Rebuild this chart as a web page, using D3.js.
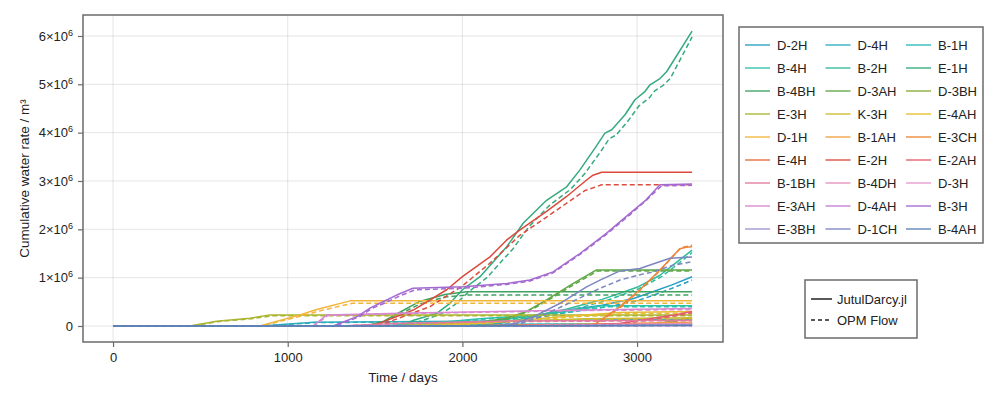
<!DOCTYPE html>
<html>
<head>
<meta charset="utf-8">
<script src="https://cdn.jsdelivr.net/npm/d3@7.9.0/dist/d3.min.js"></script>
<style>
  body { margin: 0; background: #fff; }
  svg { font-family: 'Liberation Sans', Arial, sans-serif; }
</style>
</head>
<body>
<svg id="chart" width="1000" height="400"></svg>
<script>
// well names, in legend order (row by row)
const wells = ['D-2H', 'D-4H', 'B-1H', 'B-4H', 'B-2H', 'E-1H', 'B-4BH', 'D-3AH', 'D-3BH',
  'E-3H', 'K-3H', 'E-4AH', 'D-1H', 'B-1AH', 'E-3CH', 'E-4H', 'E-2H', 'E-2AH',
  'B-1BH', 'B-4DH', 'D-3H', 'E-3AH', 'D-4AH', 'B-3H', 'E-3BH', 'D-1CH', 'B-4AH'];

const palette = ['#279fc4', '#2aaebf', '#2bb8b8', '#2dc0ad', '#30bb9b', '#33ab7e', '#3fa261', '#5ea544', '#88aa36',
  '#aab52f', '#cdbb2c', '#e6bc30', '#f2b43a', '#f0a040', '#ec8538', '#e86a3c', '#dc4a3c', '#e35c6e',
  '#e27a9e', '#e68fbd', '#e69ace', '#d888d2', '#c47ed4', '#a46ad0', '#9c94cc', '#7c86c0', '#5a82b4'];

// [day, cumulative water in 1e6 m3]
const jutul = [
  [[0, 0], [2000, 0], [2200, 0.05], [2400, 0.18], [2600, 0.33], [2800, 0.43], [2980, 0.57], [3090, 0.71], [3200, 0.85], [3315, 1.02]],
  [[0, 0], [850, 0], [1150, 0.08], [2000, 0.1], [2600, 0.12], [3315, 0.14]],
  [[0, 0], [1500, 0], [2000, 0.03], [3315, 0.05]],
  [[0, 0], [1500, 0], [1800, 0.05], [2100, 0.15], [2400, 0.22], [2600, 0.3], [2800, 0.42], [3315, 0.42]],
  [[0, 0], [1800, 0], [2100, 0.08], [2400, 0.2], [2600, 0.35], [2800, 0.55], [3000, 0.8], [3131, 1.05], [3220, 1.3], [3315, 1.57]],
  [[0, 0], [1650, 0], [1720, 0.12], [1853, 0.26], [1929, 0.47], [2000, 0.75], [2101, 1.02], [2254, 1.64], [2349, 2.13], [2482, 2.6], [2597, 2.88], [2673, 3.23], [2759, 3.68], [2816, 3.99], [2855, 4.06], [2931, 4.37], [2988, 4.68], [3045, 4.85], [3074, 4.99], [3131, 5.12], [3169, 5.26], [3315, 6.1]],
  [[0, 0], [1450, 0], [1550, 0.1], [1650, 0.3], [1750, 0.5], [1900, 0.65], [2025, 0.71], [3315, 0.71]],
  [[0, 0], [1900, 0], [2120, 0.09], [2254, 0.16], [2367, 0.3], [2482, 0.54], [2635, 0.88], [2768, 1.16], [3315, 1.16]],
  [[0, 0], [2500, 0], [2800, 0.02], [3100, 0.05], [3200, 0.1], [3315, 0.17]],
  [[0, 0], [440, 0], [593, 0.1], [784, 0.16], [899, 0.23], [3315, 0.23]],
  [[0, 0], [1600, 0], [1900, 0.05], [2300, 0.1], [2700, 0.15], [3315, 0.17]],
  [[0, 0], [1800, 0], [2200, 0.08], [2600, 0.2], [2900, 0.28], [3315, 0.3]],
  [[0, 0], [840, 0], [1070, 0.23], [1166, 0.34], [1357, 0.52], [3315, 0.52]],
  [[0, 0], [2000, 0], [2600, 0.03], [3315, 0.08]],
  [[0, 0], [2720, 0], [2768, 0.06], [2902, 0.4], [3016, 0.75], [3131, 1.16], [3245, 1.6], [3280, 1.63], [3315, 1.64]],
  [[0, 0], [1900, 0], [2400, 0.02], [3315, 0.04]],
  [[0, 0], [1470, 0], [1528, 0.06], [1719, 0.33], [1910, 0.75], [2000, 1.02], [2158, 1.43], [2254, 1.78], [2330, 1.99], [2482, 2.37], [2597, 2.68], [2711, 3.02], [2748, 3.12], [2797, 3.18], [3315, 3.18]],
  [[0, 0], [2600, 0], [2900, 0.05], [3016, 0.12], [3200, 0.22], [3315, 0.3]],
  [[0, 0], [1300, 0], [1600, 0.05], [2200, 0.1], [3315, 0.12]],
  [[0, 0], [2200, 0], [2600, 0.02], [3315, 0.05]],
  [[0, 0], [2400, 0], [3315, 0.03]],
  [[0, 0], [1145, 0], [1223, 0.23], [1700, 0.27], [2200, 0.3], [2700, 0.33], [3315, 0.36]],
  [[0, 0], [3315, 0.01]],
  [[0, 0], [1260, 0], [1400, 0.2], [1471, 0.37], [1528, 0.47], [1624, 0.64], [1717, 0.78], [2003, 0.81], [2254, 0.88], [2387, 0.95], [2519, 1.12], [2673, 1.5], [2826, 1.92], [2959, 2.33], [3052, 2.61], [3131, 2.92], [3315, 2.94]],
  [[0, 0], [2500, 0], [3315, 0.02]],
  [[0, 0], [2200, 0], [2310, 0.06], [2406, 0.19], [2559, 0.47], [2711, 0.81], [2788, 0.95], [2902, 1.14], [3016, 1.19], [3188, 1.4], [3315, 1.43]],
  [[0, 0], [3315, 0.01]]
];

const opm = [
  [[0, 0], [2000, 0], [2200, 0.04], [2400, 0.15], [2600, 0.28], [2800, 0.38], [2980, 0.5], [3090, 0.63], [3200, 0.78], [3315, 0.95]],
  [[0, 0], [860, 0], [1160, 0.07], [2000, 0.09], [2600, 0.11], [3315, 0.13]],
  [[0, 0], [1500, 0], [2000, 0.03], [3315, 0.04]],
  [[0, 0], [1500, 0], [1820, 0.05], [2120, 0.14], [2420, 0.21], [2620, 0.29], [2820, 0.4], [3315, 0.4]],
  [[0, 0], [1800, 0], [2120, 0.07], [2420, 0.19], [2620, 0.33], [2820, 0.52], [3010, 0.77], [3140, 1.02], [3230, 1.27], [3315, 1.52]],
  [[0, 0], [1680, 0], [1760, 0.1], [1880, 0.25], [1960, 0.45], [2040, 0.72], [2140, 1.0], [2290, 1.6], [2380, 2.05], [2500, 2.5], [2620, 2.83], [2700, 3.15], [2790, 3.6], [2840, 3.87], [2880, 3.95], [2950, 4.25], [3010, 4.55], [3070, 4.72], [3100, 4.86], [3150, 4.98], [3190, 5.12], [3315, 5.98]],
  [[0, 0], [1450, 0], [1560, 0.1], [1660, 0.28], [1760, 0.46], [1900, 0.6], [2025, 0.64], [3315, 0.64]],
  [[0, 0], [1900, 0], [2130, 0.08], [2260, 0.15], [2375, 0.29], [2490, 0.53], [2640, 0.86], [2775, 1.14], [3315, 1.14]],
  [[0, 0], [2500, 0], [2800, 0.02], [3100, 0.04], [3200, 0.08], [3315, 0.14]],
  [[0, 0], [450, 0], [600, 0.09], [790, 0.15], [910, 0.21], [3315, 0.21]],
  [[0, 0], [1600, 0], [1900, 0.04], [2300, 0.09], [2700, 0.13], [3315, 0.15]],
  [[0, 0], [1800, 0], [2200, 0.07], [2600, 0.18], [2900, 0.25], [3315, 0.27]],
  [[0, 0], [850, 0], [1080, 0.21], [1180, 0.31], [1370, 0.47], [3315, 0.47]],
  [[0, 0], [2000, 0], [2600, 0.02], [3315, 0.07]],
  [[0, 0], [2720, 0], [2775, 0.06], [2910, 0.4], [3020, 0.75], [3135, 1.16], [3250, 1.62], [3315, 1.67]],
  [[0, 0], [1900, 0], [2400, 0.02], [3315, 0.03]],
  [[0, 0], [1480, 0], [1560, 0.06], [1815, 0.4], [2000, 0.83], [2158, 1.3], [2330, 1.88], [2444, 2.16], [2597, 2.54], [2700, 2.8], [2797, 2.92], [3315, 2.92]],
  [[0, 0], [2600, 0], [2900, 0.04], [3016, 0.1], [3200, 0.2], [3315, 0.27]],
  [[0, 0], [1300, 0], [1600, 0.04], [2200, 0.09], [3315, 0.11]],
  [[0, 0], [2200, 0], [2600, 0.02], [3315, 0.04]],
  [[0, 0], [2400, 0], [3315, 0.02]],
  [[0, 0], [1150, 0], [1230, 0.22], [1700, 0.26], [2200, 0.29], [2700, 0.32], [3315, 0.34]],
  [[0, 0], [3315, 0.01]],
  [[0, 0], [1270, 0], [1410, 0.19], [1480, 0.36], [1540, 0.45], [1640, 0.62], [1730, 0.75], [2003, 0.78], [2254, 0.86], [2387, 0.93], [2519, 1.1], [2673, 1.48], [2826, 1.9], [2959, 2.3], [3052, 2.6], [3140, 2.9], [3315, 2.91]],
  [[0, 0], [2500, 0], [3315, 0.02]],
  [[0, 0], [2210, 0], [2330, 0.05], [2430, 0.17], [2580, 0.42], [2788, 0.78], [2902, 0.95], [3016, 1.06], [3093, 1.12], [3200, 1.25], [3315, 1.33]],
  [[0, 0], [3315, 0.01]]
];

const xTicks = [0, 1000, 2000, 3000];
const yTicks = [0, 1, 2, 3, 4, 5, 6]; // x 1e6

const svg = d3.select('#chart');
const box = { left: 83, right: 723, top: 15, bottom: 342 };
const frameColor = '#6b6b6b';

const x = d3.scaleLinear().domain([-172, 3492]).range([box.left, box.right]);
const y = d3.scaleLinear().domain([-0.331, 6.434]).range([box.bottom, box.top]);

// grid
svg.append('g')
  .selectAll('line')
  .data(xTicks)
  .join('line')
  .attr('x1', d => x(d)).attr('x2', d => x(d))
  .attr('y1', box.top).attr('y2', box.bottom)
  .attr('stroke', '#000').attr('stroke-opacity', 0.1).attr('stroke-width', 1);
svg.append('g')
  .selectAll('line')
  .data(yTicks)
  .join('line')
  .attr('x1', box.left).attr('x2', box.right)
  .attr('y1', d => y(d)).attr('y2', d => y(d))
  .attr('stroke', '#000').attr('stroke-opacity', 0.1).attr('stroke-width', 1);

svg.append('clipPath').attr('id', 'clip')
  .append('rect')
  .attr('x', box.left).attr('y', box.top)
  .attr('width', box.right - box.left).attr('height', box.bottom - box.top);

const line = d3.line().x(d => x(d[0])).y(d => y(d[1]));
const plot = svg.append('g').attr('clip-path', 'url(#clip)');

wells.forEach((w, i) => {
  plot.append('path')
    .attr('d', line(jutul[i]))
    .attr('fill', 'none')
    .attr('stroke', palette[i])
    .attr('stroke-width', 1.5)
    .attr('stroke-linejoin', 'round');
  plot.append('path')
    .attr('d', line(opm[i]))
    .attr('fill', 'none')
    .attr('stroke', palette[i])
    .attr('stroke-width', 1.5)
    .attr('stroke-dasharray', '5,3');
});

// frame
svg.append('rect')
  .attr('x', box.left).attr('y', box.top)
  .attr('width', box.right - box.left).attr('height', box.bottom - box.top)
  .attr('fill', 'none').attr('stroke', frameColor).attr('stroke-width', 1.5);

// axes
const xAxis = svg.append('g')
  .attr('transform', `translate(0,${box.bottom})`)
  .call(d3.axisBottom(x).tickValues(xTicks).tickSize(5).tickPadding(6).tickFormat(d3.format('d')));
const yAxis = svg.append('g')
  .attr('transform', `translate(${box.left},0)`)
  .call(d3.axisLeft(y).tickValues(yTicks).tickSize(5).tickPadding(5).tickFormat(''));
[xAxis, yAxis].forEach(g => {
  g.select('.domain').remove();
  g.selectAll('.tick line').attr('stroke', frameColor).attr('stroke-width', 1.2);
  g.selectAll('text').attr('font-size', 13).attr('fill', '#222').attr('font-family', 'Liberation Sans, Arial, sans-serif');
});

yAxis.selectAll('.tick').each(function (d) {
  const t = d3.select(this).select('text');
  if (d === 0) { t.text('0'); return; }
  t.text(null);
  t.append('tspan').text(d + '×10');
  t.append('tspan').text('6').attr('font-size', 9).attr('dy', -5);
});

svg.append('text')
  .attr('x', (box.left + box.right) / 2).attr('y', 382)
  .attr('text-anchor', 'middle').attr('font-size', 13.5).attr('fill', '#222')
  .text('Time / days');
svg.append('text')
  .attr('transform', `translate(29,${(box.top + box.bottom) / 2}) rotate(-90)`)
  .attr('text-anchor', 'middle').attr('font-size', 13.5).attr('fill', '#222')
  .text('Cumulative water rate / m³');

// well legend
const leg = svg.append('g');
leg.append('rect')
  .attr('x', 739).attr('y', 27).attr('width', 244).attr('height', 216)
  .attr('fill', '#fff').attr('stroke', frameColor).attr('stroke-width', 1.5);
wells.forEach((w, i) => {
  const col = i % 3, row = Math.floor(i / 3);
  const lx = 745 + col * 80.5, ly = 45 + row * 23;
  leg.append('line')
    .attr('x1', lx).attr('x2', lx + 25).attr('y1', ly).attr('y2', ly)
    .attr('stroke', palette[i]).attr('stroke-opacity', 0.75).attr('stroke-width', 1.8);
  leg.append('text')
    .attr('x', lx + 32).attr('y', ly + 4.5)
    .attr('font-size', 13).attr('fill', '#222')
    .text(w);
});

// style legend
const leg2 = svg.append('g');
leg2.append('rect')
  .attr('x', 805).attr('y', 280).attr('width', 112).attr('height', 58)
  .attr('fill', '#fff').attr('stroke', frameColor).attr('stroke-width', 1.5);
[['JutulDarcy.jl', null], ['OPM Flow', '4,3']].forEach(([lbl, dash], i) => {
  const ly = 299 + i * 21;
  leg2.append('line')
    .attr('x1', 811).attr('x2', 832).attr('y1', ly).attr('y2', ly)
    .attr('stroke', '#222').attr('stroke-width', 1.5)
    .attr('stroke-dasharray', dash);
  leg2.append('text')
    .attr('x', 837).attr('y', ly + 4.5)
    .attr('font-size', 13).attr('fill', '#222')
    .text(lbl);
});
</script>
</body>
</html>
